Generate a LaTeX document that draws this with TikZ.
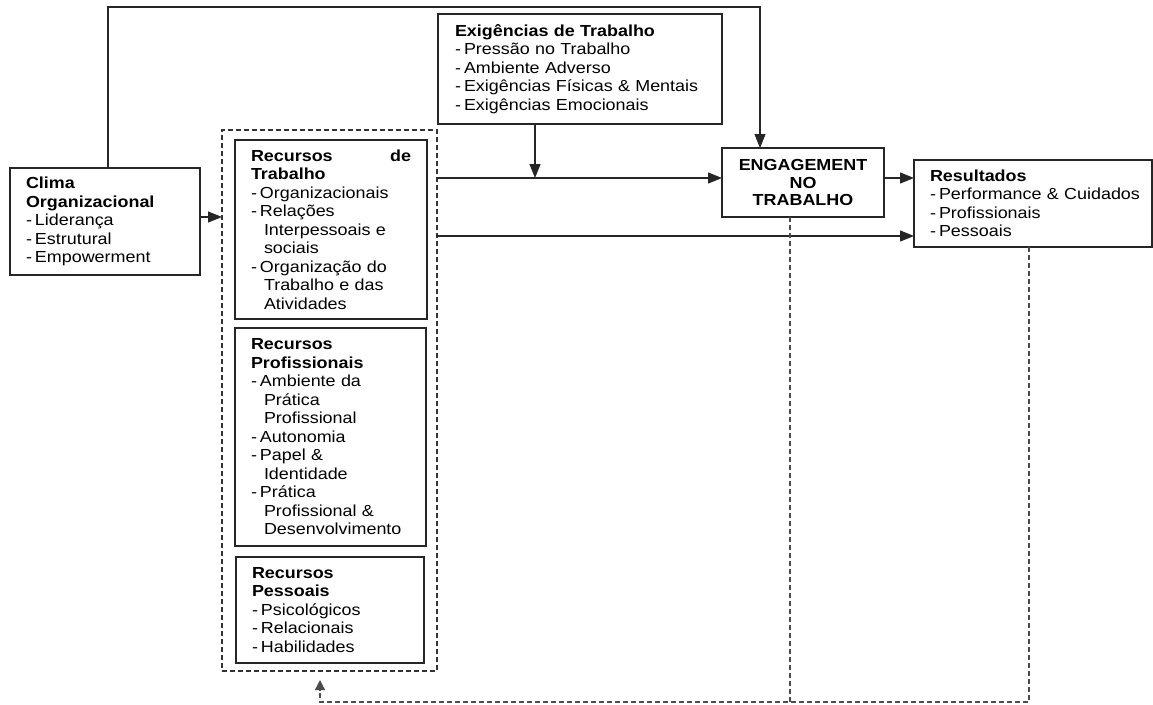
\documentclass[tikz,border=0pt]{standalone}
\usepackage{fontspec}
\setmainfont[FakeStretch=1.12]{Liberation Sans}
\usetikzlibrary{arrows.meta}
\newcommand\fs{\fontsize{16}{18.5}\selectfont}
\newcommand\itm{\makebox[9pt][l]{-}}
\newcommand\cnt{\hspace*{13pt}}
\tikzset{
  fr/.style={draw=black!85, line width=1.2pt, anchor=north west, outer sep=0pt, inner ysep=0pt, inner xsep=16pt, align=left, font=\fs},
  dbx/.style={draw=black!80, line width=1.3pt, dash pattern=on 5pt off 3pt, anchor=north west, outer sep=0pt, inner sep=0pt},
  arr/.style={draw=black!85, line width=1.2pt, -{Triangle[length=14pt,width=11pt]}},
  fb/.style={draw=black!70, line width=1.3pt, dash pattern=on 5pt off 3pt},
}
\begin{document}
\begin{tikzpicture}[x=1pt,y=-1pt]
\useasboundingbox (0,0) rectangle (1153,704);
\node[fr, minimum width=190pt, minimum height=107pt, text width=158pt] (clima) at (10,168)
  {\textbf{Clima}\\\textbf{Organizacional}\\\itm Liderança\\\itm Estrutural\\\itm Empowerment};
\node[fr, minimum width=284pt, minimum height=110pt, inner xsep=17pt, text width=250pt] (exig) at (438,14)
  {\textbf{Exigências de Trabalho}\\\itm Pressão no Trabalho\\\itm Ambiente Adverso\\\itm Exigências Físicas \& Mentais\\\itm Exigências Emocionais};
\node[dbx, minimum width=215pt, minimum height=541pt] (dbox) at (222,130) {};
\node[fr, minimum width=192pt, minimum height=179pt, text width=160pt] (rt) at (235,140)
  {\textbf{Recursos\hfill de}\\\textbf{Trabalho}\\\itm Organizacionais\\\itm Relações\\\cnt Interpessoais e\\\cnt sociais\\\itm Organização do\\\cnt Trabalho e das\\\cnt Atividades};
\node[fr, minimum width=191pt, minimum height=218pt, text width=159pt] (rp) at (235,328)
  {\textbf{Recursos}\\\textbf{Profissionais}\\\itm Ambiente da\\\cnt Prática\\\cnt Profissional\\\itm Autonomia\\\itm Papel \&\\\cnt Identidade\\\itm Prática\\\cnt Profissional \&\\\cnt Desenvolvimento};
\node[fr, minimum width=188pt, minimum height=106pt, text width=156pt] (rpe) at (236,557)
  {\textbf{Recursos}\\\textbf{Pessoais}\\\itm Psicológicos\\\itm Relacionais\\\itm Habilidades};
\node[fr, minimum width=162pt, minimum height=69pt, inner xsep=6pt, text width=150pt, align=center, font=\fontsize{16}{17.5}\selectfont\bfseries] (eng) at (722,148)
  {ENGAGEMENT\\NO\\TRABALHO};
\node[fr, minimum width=238pt, minimum height=87pt, text width=206pt] (res) at (914,160)
  {\textbf{Resultados}\\\mbox{\itm Performance \& Cuidados}\\\itm Profissionais\\\itm Pessoais};
% connectors
\coordinate (tl) at (108,7);
\coordinate (tr) at (760,7);
\coordinate (ya) at (0,178);
\coordinate (yb) at (0,236);
\coordinate (yc) at (0,217);
\coordinate (ex) at (535,0);
\draw[arr] (clima.north -| tl) -- (tl) -- (tr) -- (tr |- eng.north);
\draw[arr] (clima.east |- yc) -- (dbox.west |- yc);
\draw[arr] (dbox.east |- ya) -- (eng.west |- ya);
\draw[arr] (exig.south -| ex) -- (ex |- ya);
\draw[arr] (eng.east |- ya) -- (res.west |- ya);
\draw[arr] (dbox.east |- yb) -- (res.west |- yb);
\coordinate (f1) at (790,702);
\coordinate (f2) at (1029,702);
\coordinate (f3) at (320,702);
\coordinate (f4) at (320,680);
\draw[fb] (eng.south -| f1) -- (f1);
\draw[fb, -{Triangle[length=10pt,width=10pt]}] (res.south -| f2) -- (f2) -- (f3) -- (f4);
\end{tikzpicture}
\end{document}
